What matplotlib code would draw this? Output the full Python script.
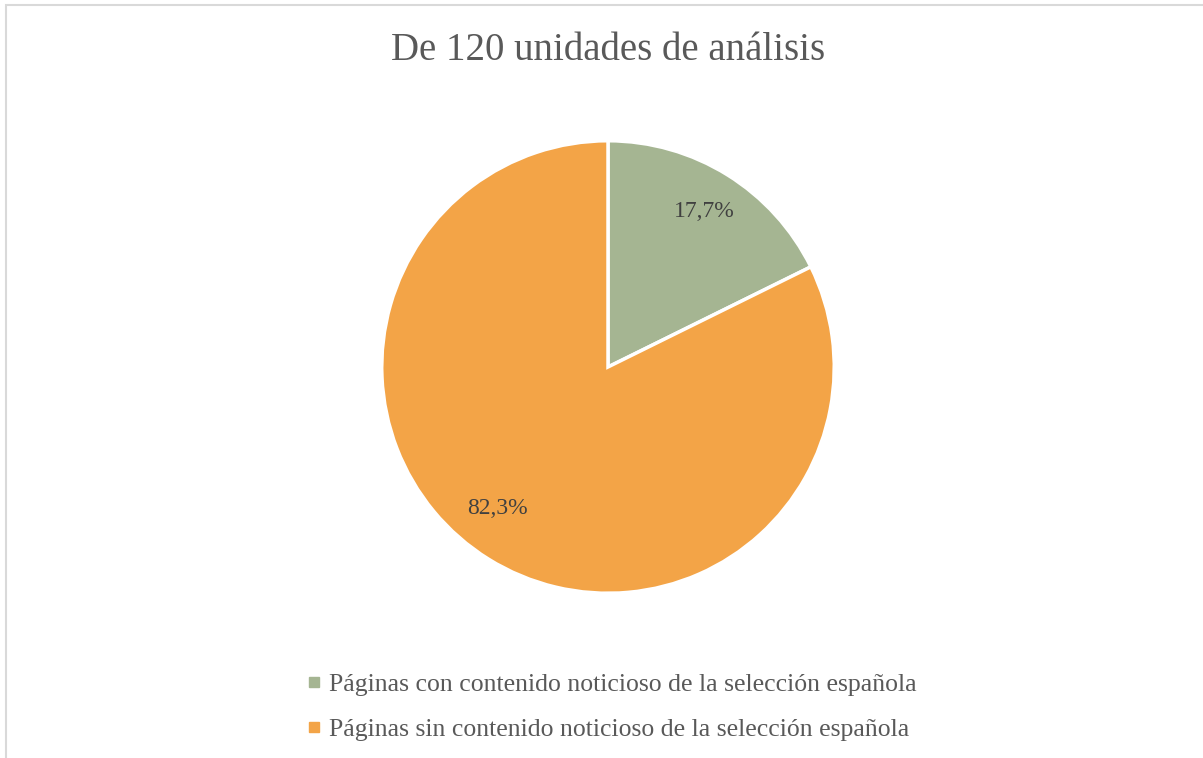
import matplotlib
matplotlib.use("Agg")
import matplotlib.pyplot as plt
import numpy as np
from matplotlib.patches import Rectangle
from matplotlib.lines import Line2D

categories = ["Páginas con contenido noticioso de la selección española",
              "Páginas sin contenido noticioso de la selección española"]
values = [17.7, 82.3]
colors = ["#A5B592", "#F3A447"]
title = "De 120 unidades de análisis"

plt.rcParams['font.family'] = ['Liberation Serif', 'DejaVu Serif']

W, H = 1203, 758
fig = plt.figure(figsize=(W/100, H/100), dpi=100)
fig.patch.set_facecolor("white")

# border
fig.add_artist(Rectangle((6/W, -0.1), 1.2, (758-5)/H + 0.1, transform=fig.transFigure,
                         fill=False, edgecolor="#D9D9D9", linewidth=1.5))

cx, cy, r = 608, 367, 224
ax = fig.add_axes([(cx - r)/W, (H - cy - r)/H, 2*r/W, 2*r/H])
wedges, texts, autotexts = ax.pie(values, colors=colors, startangle=90, counterclock=False,
       radius=1.01,
       autopct=lambda p: f"{p:.1f}%".replace(".", ","), pctdistance=0.81,
       wedgeprops=dict(edgecolor="white", linewidth=2.5),
       textprops=dict(fontsize=17, color="#404040"))
# nudge the large-slice label slightly further round, as in the original layout
ang = np.deg2rad(-128)
autotexts[1].set_position((0.8 * np.cos(ang), 0.8 * np.sin(ang)))
ax.set_xlim(-1, 1)
ax.set_ylim(-1, 1)
ax.set_aspect("equal")
ax.axis("off")

fig.text(cx/W, 1 - 50/H, title, ha="center", va="center", fontsize=28, color="#595959")

handles = [Line2D([], [], marker="s", linestyle="none", markersize=7,
                  markerfacecolor=c, markeredgecolor=c) for c in colors]
leg = fig.legend(handles, categories, loc="center", bbox_to_anchor=(612/W, 1 - 707/H),
                 frameon=False, fontsize=18.5, labelcolor="#595959", handlelength=0.5,
                 handletextpad=0.35, labelspacing=0.85)

fig.savefig("out.png", dpi=100, facecolor="white")
